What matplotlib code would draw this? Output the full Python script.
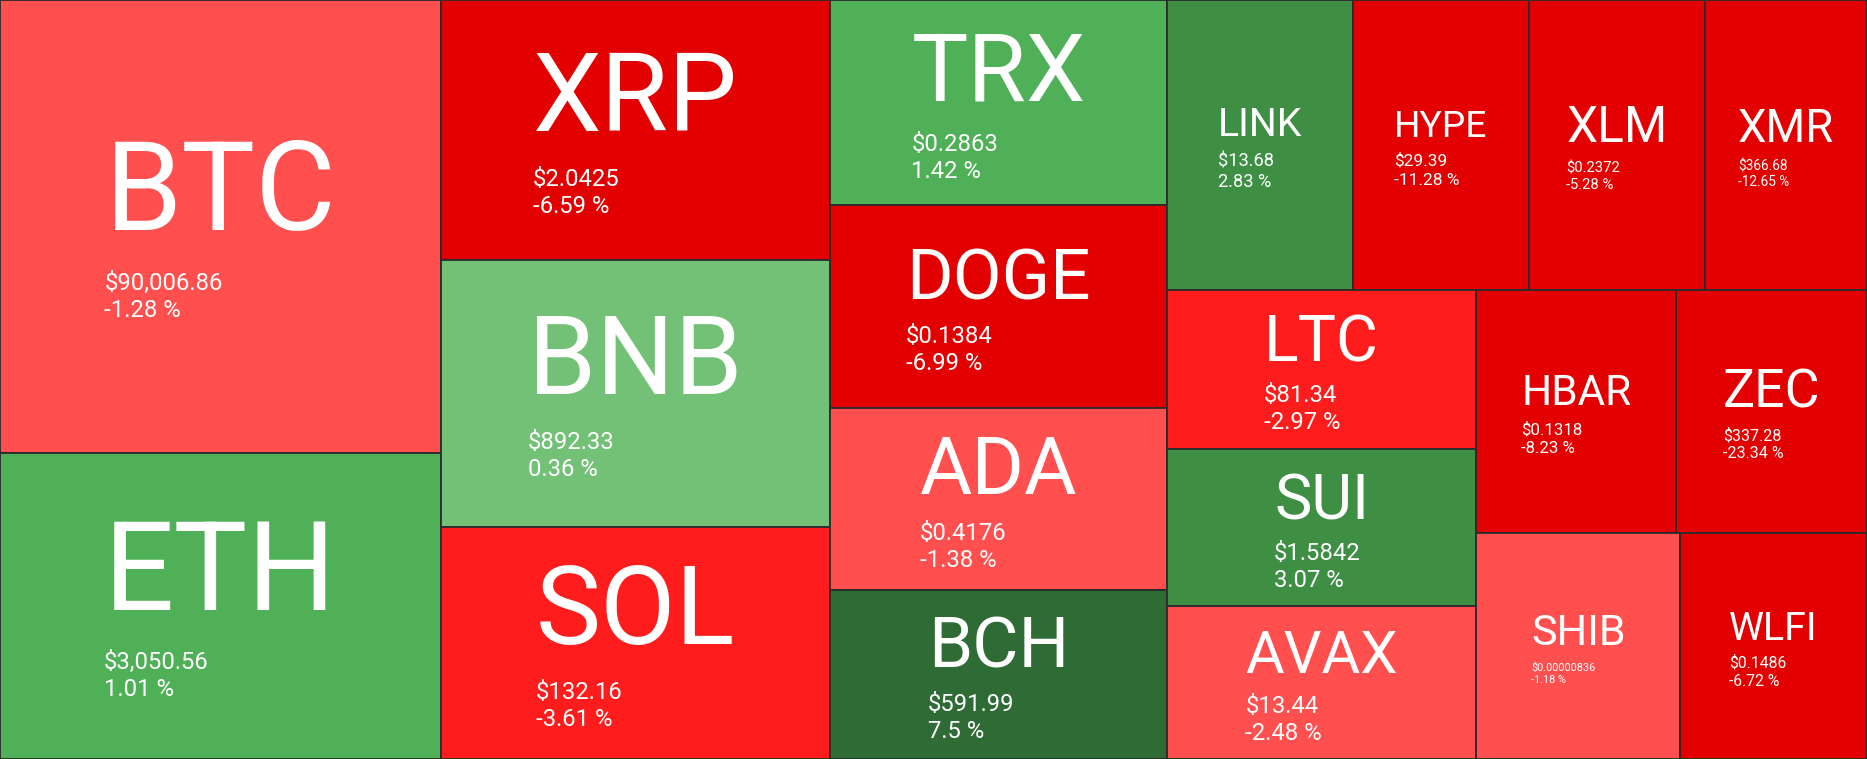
'''
Crypto market heatmap - squarified treemap drawn with matplotlib
'''

import matplotlib.pyplot as plt
from matplotlib.patches import Rectangle

# Data (tile weights, in layout order)
symbols = ['BTC', 'ETH', 'XRP', 'BNB', 'SOL', 'TRX', 'DOGE', 'ADA', 'BCH',
           'LINK', 'HYPE', 'XLM', 'XMR', 'LTC', 'SUI', 'AVAX', 'HBAR', 'ZEC',
           'SHIB', 'WLFI']
weights = [140600, 95090, 71286, 73248, 63765, 48676, 48110, 43299, 40186,
           37908, 35964, 35964, 33048, 34840, 34320, 33280, 34272, 32640,
           32490, 29830]
prices = ['$90,006.86', '$3,050.56', '$2.0425', '$892.33', '$132.16',
          '$0.2863', '$0.1384', '$0.4176', '$591.99', '$13.68', '$29.39',
          '$0.2372', '$366.68', '$81.34', '$1.5842', '$13.44', '$0.1318',
          '$337.28', '$0.00000836', '$0.1486']
changes = [-1.28, 1.01, -6.59, 0.36, -3.61, 1.42, -6.99, -1.38, 7.5, 2.83,
           -11.28, -5.28, -12.65, -2.97, 3.07, -2.48, -8.23, -23.34, -1.18,
           -6.72]

W, H = 1867, 759
PHI = (1 + 5 ** 0.5) / 2


def tile_color(p):
    if p < -5:
        return '#e30000'
    if p < -2.5:
        return '#ff1c1c'
    if p < 0:
        return '#ff4f4f'
    if p < 1:
        return '#72c176'
    if p < 2:
        return '#4fb057'
    if p < 5:
        return '#3e8f44'
    return '#2f6b35'


def squarify(values, x0, y0, x1, y1, ratio=PHI):
    # same strip rule as d3.treemapSquarify
    rects = [None] * len(values)
    total = float(sum(values))
    i0 = 0
    n = len(values)
    while i0 < n:
        dx, dy = x1 - x0, y1 - y0
        i1 = i0 + 1
        s = values[i0]
        vmin = vmax = s
        alpha = max(dy / dx, dx / dy) / (total * ratio)
        beta = s * s * alpha
        best = max(vmax / beta, beta / vmin)
        while i1 < n:
            v = values[i1]
            s2 = s + v
            beta = s2 * s2 * alpha
            r = max(max(vmax, v) / beta, beta / min(vmin, v))
            if r > best:
                break
            s, best = s2, r
            vmin, vmax = min(vmin, v), max(vmax, v)
            i1 += 1
        if dx < dy:
            # row along the top
            h = dy * s / total
            xx = x0
            for k in range(i0, i1):
                w = dx * values[k] / s
                rects[k] = (xx, y0, w, h)
                xx += w
            y0 += h
        else:
            # column on the left
            w = dx * s / total
            yy = y0
            for k in range(i0, i1):
                h = dy * values[k] / s
                rects[k] = (x0, yy, w, h)
                yy += h
            x0 += w
        total -= s
        i0 = i1
    return rects


rects = squarify(weights, 0, 0, W, H)

fig = plt.figure(figsize=(W / 100, H / 100), dpi=100)
ax = fig.add_axes([0, 0, 1, 1])
ax.set_xlim(0, W)
ax.set_ylim(H, 0)
ax.axis('off')
renderer = fig.canvas.get_renderer()

PX = 72 / 100   # px -> pt
CAP = 0.711     # Roboto cap height / em

for sym, price, pct, (x, y, w, h) in zip(symbols, prices, changes, rects):
    ax.add_patch(Rectangle((x, y), w, h, facecolor=tile_color(pct),
                           edgecolor='#2b2b2b', linewidth=1.3))

    cap_small = min(17, 0.42 * w / len(price))
    f_small = cap_small / CAP
    line = 1.13 * f_small
    # symbol size: fit the width, and keep the whole block within ~72% of h
    cap_big = min(0.6 * w / len(sym),
                  (0.715 * h - 5 - cap_small - line) / 1.422)
    f_big = cap_big / CAP
    gap = 0.3 * f_big + 5
    block = cap_big + gap + cap_small + line
    top = y + h / 2 - block / 2 + 3

    t = ax.text(x + w / 2, top + cap_big, sym, ha='center', va='baseline',
                color='white', fontsize=f_big * PX, family='Roboto')
    bb = t.get_window_extent(renderer)
    left = bb.x0

    yp = top + cap_big + gap + cap_small
    pct_txt = ('%g' % pct) + ' %'
    ax.text(left, yp, price, ha='left', va='baseline', color='white',
            fontsize=f_small * PX, family='Roboto')
    ax.text(left, yp + line, pct_txt, ha='left', va='baseline',
            color='white', fontsize=f_small * PX, family='Roboto')

plt.savefig('out.png', dpi=100)
